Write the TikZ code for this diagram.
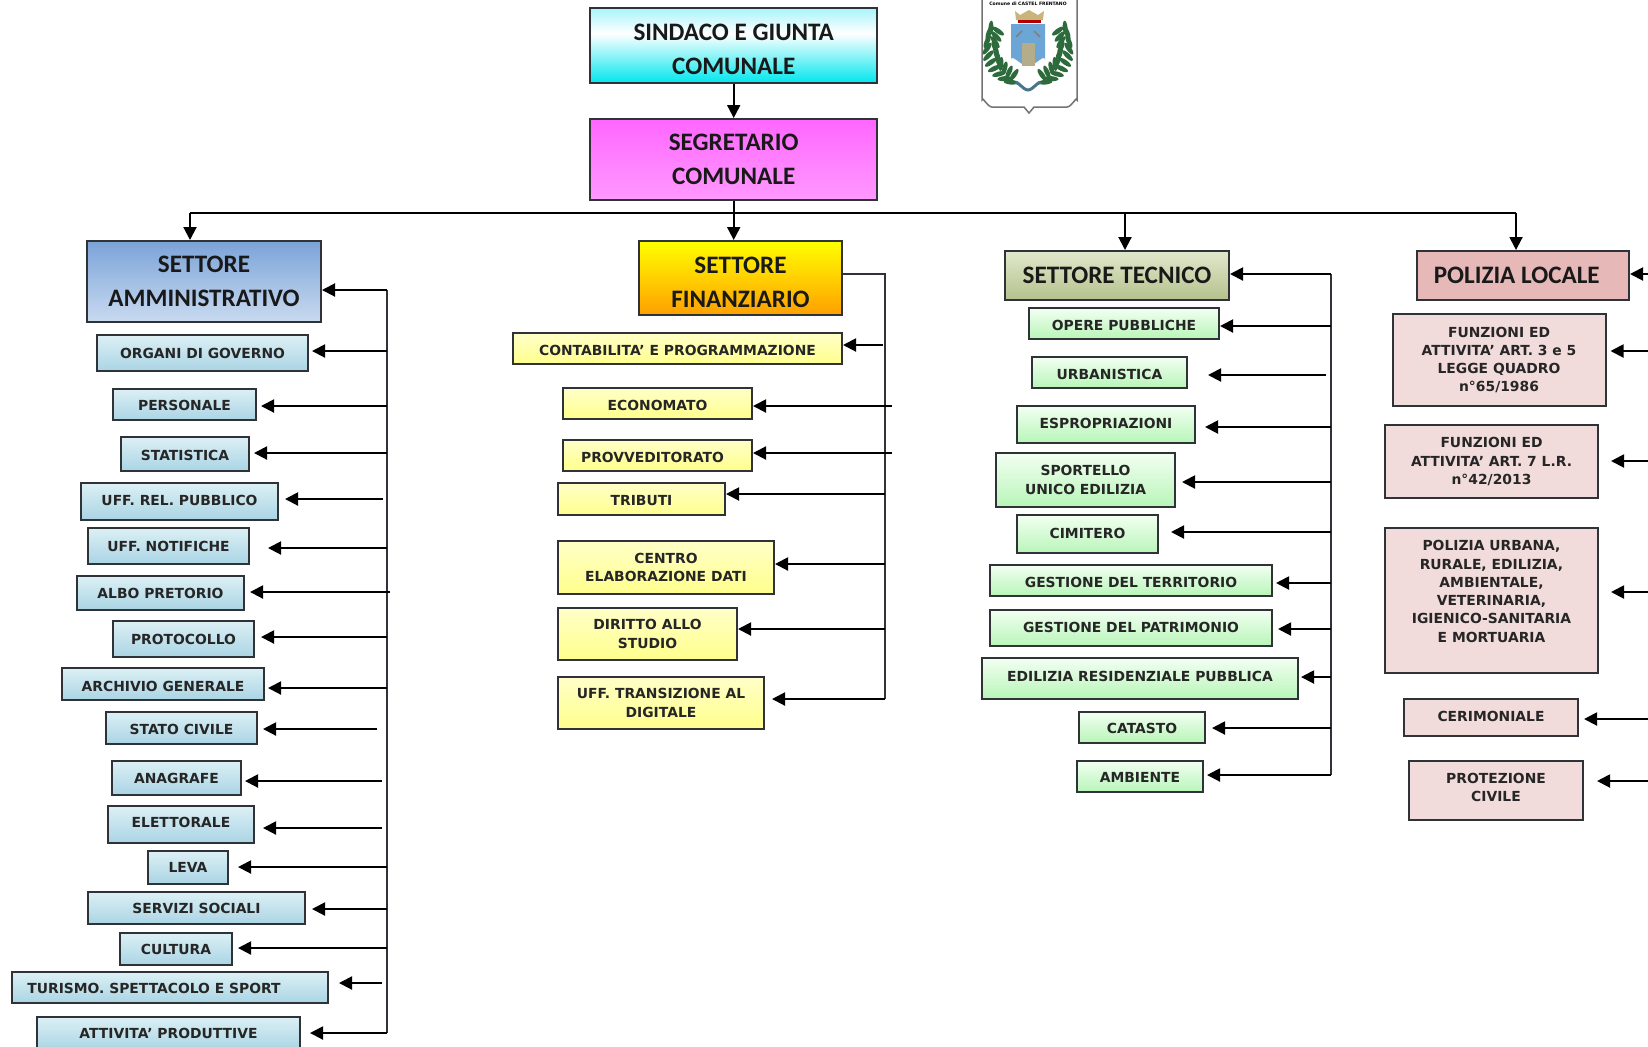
\documentclass[tikz,border=0pt]{standalone}
\usepackage{fontspec}
\usetikzlibrary{arrows.meta}
\newfontfamily\capfont{Carlito}[BoldFont={Carlito Bold}]
\newfontfamily\boxfont{DejaVu Sans}
\definecolor{edge}{HTML}{2F3338}
\definecolor{cSinT}{HTML}{A8F4FA}
\definecolor{cSinB}{HTML}{00E6EE}
\definecolor{cAdmH}{HTML}{7BA3D8}
\definecolor{cAdmL}{HTML}{C9DAF0}
\definecolor{cAdmT}{HTML}{DCF0F5}
\definecolor{cAdmB}{HTML}{AAD4E4}
\definecolor{cFinT}{HTML}{FFFFC8}
\definecolor{cFinB}{HTML}{FFFF8C}
\definecolor{cTecH}{HTML}{E0E8CC}
\definecolor{cTecL}{HTML}{B4C28C}
\definecolor{cTecT}{HTML}{F2FFF2}
\definecolor{cTecB}{HTML}{B8F5B8}
\definecolor{cPolH}{HTML}{E6B8B7}
\definecolor{cPol}{HTML}{F2DCDB}
\definecolor{cCrown}{HTML}{C9B57C}
\definecolor{cScudo}{HTML}{6BA6D6}
\definecolor{cTorre}{HTML}{B5AD8A}
\definecolor{cLeaf}{HTML}{2E6B3C}
\pgfdeclareverticalshading{sindacoshade}{100bp}{color(0bp)=(cSinB); color(25bp)=(cSinB); color(58bp)=(white); color(75bp)=(cSinT); color(100bp)=(cSinT)}
\tikzset{
  size/.style 2 args={minimum width=#1*0.02cm,minimum height=#2*0.02cm},
  drop/.style={text depth=0pt,text height=5.8pt+2*#1*0.02cm},
  head/.style={draw=edge,line width=0.04cm,inner sep=0pt,align=center,font=\capfont\bfseries\fontsize{14.3}{19.3}\selectfont,text=black!90},
  leaf/.style={draw=edge,line width=0.04cm,inner sep=0pt,align=center,font=\boxfont\bfseries\fontsize{7.9}{10.4}\selectfont,text=black!85},
  adm/.style={leaf,top color=cAdmT,bottom color=cAdmB},
  fin/.style={leaf,top color=cFinT,bottom color=cFinB},
  tec/.style={leaf,top color=cTecT,bottom color=cTecB},
  pol/.style={leaf,fill=cPol},
  feed/.style={-{Triangle[length=0.26cm,width=0.26cm]},line width=0.04cm,black},
  spine/.style={line width=0.04cm,edge},
  gap/.style={shorten >=(#1-2)*0.02cm},
  frond/.style={fill=cLeaf}
}
\begin{document}
\begin{tikzpicture}[x=0.02cm,y=-0.02cm]
\useasboundingbox (0,0) rectangle (1648,1046);
\clip (0,0) rectangle (1648,1046);

% top of the chart
\node[head,size={287}{75},shading=sindacoshade](sindaco) at (733.7,45.5){\rule{0pt}{14pt}SINDACO E GIUNTA\\COMUNALE};
\node[head,size={287}{81},top color=magenta!60!white,bottom color=magenta!40!white](segretario) at (733.7,159.5){SEGRETARIO\\COMUNALE};
\coordinate (busl) at (190,213);
\coordinate (busr) at (1516,213);
\coordinate (bust) at (1125,213);
\draw[feed] (sindaco)--(segretario);
\draw[line width=0.03cm] (busl)--(busr);

% crest
\filldraw[draw=black!55,fill=white,line width=0.03cm] (982,-5)--(982,100) to[out=90,in=180] (992,107)--(1024,107)--(1029,113)--(1034,107)--(1067,107) to[out=0,in=90] (1077,100)--(1077,-5);
\node[inner sep=0pt,font=\boxfont\bfseries\fontsize{2.6}{3}\selectfont](stemma) at (1028,4){Comune di CASTEL FRENTANO};
\fill[cCrown] (1015,11)--(1020,15)--(1029,10)--(1038,15)--(1044,11)--(1043,20)--(1016,20)--cycle;
\fill[red!70!black] (1018,20) rectangle (1041,23);
\fill[cScudo] (1011,24)--(1045,24)--(1045,60) to[out=90,in=0] (1028,66) to[out=180,in=90] (1011,60)--cycle;
\fill[cTorre] (1022,66)--(1022,43)--(1035,43)--(1035,66)--cycle;
\draw[gray,line width=0.03cm] (1016,37)--(1022,31) (1040,37)--(1034,31);
\begin{scope}[shift={(1028,45)}]
\foreach \a in {115,125,...,205}
  {\fill[frond,shift={(\a:33)},rotate=\a-60] (0,0) ellipse (7 and 2.4);
   \fill[frond,shift={(\a:41)},rotate=\a+60] (0,0) ellipse (7 and 2.4);}
\foreach \a in {65,55,...,-25}
  {\fill[frond,shift={(\a:33)},rotate=\a+60] (0,0) ellipse (7 and 2.4);
   \fill[frond,shift={(\a:41)},rotate=\a-60] (0,0) ellipse (7 and 2.4);}
\end{scope}
\draw[cyan!50!black,line width=0.06cm] (1016,84) to[out=90,in=180] (1028,90) to[out=0,in=90] (1040,84);

% settore amministrativo
\node[head,size={234}{81},top color=cAdmH,bottom color=cAdmL](admin) at (204,281.5){SETTORE\\AMMINISTRATIVO};
\node[adm,size={211}{36}](organi) at (202.5,353){ORGANI DI GOVERNO};
\node[adm,size={143}{31},drop=1](personale) at (184.5,404.5){PERSONALE};
\node[adm,size={128}{34},drop=1](statistica) at (185,454){STATISTICA};
\node[adm,size={197}{37},drop=-1](relpub) at (179.5,501.5){UFF. REL. PUBBLICO};
\node[adm,size={161}{36}](notifiche) at (168.5,546){UFF. NOTIFICHE};
\node[adm,size={167}{34}](albo) at (160.5,593){ALBO PRETORIO};
\node[adm,size={141}{36}](protocollo) at (183.5,639){PROTOCOLLO};
\node[adm,size={202}{32},drop=2](archivio) at (163,684){ARCHIVIO GENERALE};
\node[adm,size={151}{32},drop=1](stato) at (181.5,728){STATO CIVILE};
\node[adm,size={129}{34}](anagrafe) at (176.5,778){ANAGRAFE};
\node[adm,size={146}{37},drop=-2](elettorale) at (181,824.5){ELETTORALE};
\node[adm,size={80}{33}](leva) at (188,867.5){LEVA};
\node[adm,size={217}{32}](servizi) at (196.5,908){SERVIZI SOCIALI};
\node[adm,size={112}{32}](cultura) at (176,949){CULTURA};
\node[adm,size={316}{31},drop=1](turismo) at (170,987.5){TURISMO. SPETTACOLO E SPORT\hspace{0.64cm}};
\node[adm,size={263}{33}](attivita) at (168.5,1033.5){ATTIVITA’ PRODUTTIVE};
\coordinate (s-admin) at (387,290);
\coordinate (s-organi) at (387,351);
\coordinate (s-personale) at (387,406);
\coordinate (s-statistica) at (387,453);
\coordinate (s-relpub) at (383,499);
\coordinate (s-notifiche) at (387,548);
\coordinate (s-albo) at (390,592);
\coordinate (s-protocollo) at (387,637);
\coordinate (s-archivio) at (387,688);
\coordinate (s-stato) at (377,729);
\coordinate (s-anagrafe) at (382,781);
\coordinate (s-elettorale) at (382,828);
\coordinate (s-leva) at (387,867);
\coordinate (s-servizi) at (387,909);
\coordinate (s-cultura) at (387,948);
\coordinate (s-turismo) at (382,983);
\coordinate (s-attivita) at (387,1033);
\draw[spine] (s-admin)--(s-attivita);
\draw[feed] (busl)--(busl|-admin.north);
\draw[feed] (s-admin)--(s-admin-|admin.east);
\draw[feed,gap=5] (s-organi)--(s-organi-|organi.east);
\draw[feed,gap=6] (s-personale)--(s-personale-|personale.east);
\draw[feed,gap=6] (s-statistica)--(s-statistica-|statistica.east);
\draw[feed,gap=8] (s-relpub)--(s-relpub-|relpub.east);
\draw[feed,gap=20] (s-notifiche)--(s-notifiche-|notifiche.east);
\draw[feed,gap=7] (s-albo)--(s-albo-|albo.east);
\draw[feed,gap=8] (s-protocollo)--(s-protocollo-|protocollo.east);
\draw[feed,gap=5] (s-archivio)--(s-archivio-|archivio.east);
\draw[feed,gap=7] (s-stato)--(s-stato-|stato.east);
\draw[feed,gap=5] (s-anagrafe)--(s-anagrafe-|anagrafe.east);
\draw[feed,gap=10] (s-elettorale)--(s-elettorale-|elettorale.east);
\draw[feed,gap=11] (s-leva)--(s-leva-|leva.east);
\draw[feed,gap=8] (s-servizi)--(s-servizi-|servizi.east);
\draw[feed,gap=7] (s-cultura)--(s-cultura-|cultura.east);
\draw[feed,gap=12] (s-turismo)--(s-turismo-|turismo.east);
\draw[feed,gap=11] (s-attivita)--(s-attivita-|attivita.east);

% settore finanziario
\node[head,size={203}{74},top color=yellow,middle color=yellow,bottom color=orange!75!yellow](finanz) at (740.5,278){\rule{0pt}{14pt}SETTORE\\FINANZIARIO};
\node[fin,size={329}{31},drop=2](contab) at (677.5,348.5){CONTABILITA’ E PROGRAMMAZIONE};
\node[fin,size={189}{31},drop=2](econ) at (657.5,403.5){ECONOMATO};
\node[fin,size={189}{31},drop=2](provv) at (657.5,455.5){PROVVEDITORATO\hspace{0.2cm}};
\node[fin,size={167}{32},drop=1](tributi) at (641.5,499){TRIBUTI};
\node[fin,size={216}{53}](centro) at (666,567.5){CENTRO\\ELABORAZIONE DATI};
\node[fin,size={179}{52}](diritto) at (647.5,634){DIRITTO ALLO\\STUDIO};
\node[fin,size={206}{52}](transiz) at (661,703){UFF. TRANSIZIONE AL\\DIGITALE};
\coordinate (s-finanz) at (885,274);
\coordinate (s-contab) at (883,345);
\coordinate (s-econ) at (892,406);
\coordinate (s-provv) at (892,453);
\coordinate (s-tributi) at (885,494);
\coordinate (s-centro) at (885,564);
\coordinate (s-diritto) at (885,629);
\coordinate (s-transiz) at (885,699);
\draw[feed] (segretario.south)--(segretario.south|-finanz.north);
\draw[spine] (s-finanz-|finanz.east)--(s-finanz)--(s-transiz);
\draw[feed] (s-contab)--(s-contab-|contab.east);
\draw[feed] (s-econ)--(s-econ-|econ.east);
\draw[feed] (s-provv)--(s-provv-|provv.east);
\draw[feed] (s-tributi)--(s-tributi-|tributi.east);
\draw[feed] (s-centro)--(s-centro-|centro.east);
\draw[feed] (s-diritto)--(s-diritto-|diritto.east);
\draw[feed,gap=9] (s-transiz)--(s-transiz-|transiz.east);

% settore tecnico
\node[head,size={224}{49},top color=cTecH,bottom color=cTecL](tecnico) at (1117,275.5){SETTORE TECNICO};
\node[tec,size={190}{31},drop=2](opere) at (1124,323.5){OPERE PUBBLICHE};
\node[tec,size={155}{31},drop=2](urban) at (1109.5,372.5){URBANISTICA};
\node[tec,size={178}{37},drop=-1](espro) at (1106,424.5){ESPROPRIAZIONI};
\node[tec,size={179}{54}](sportello) at (1085.5,480){SPORTELLO\\UNICO EDILIZIA};
\node[tec,size={141}{38},drop=-1](cimitero) at (1087.5,534){CIMITERO};
\node[tec,size={282}{31},drop=2](territorio) at (1131,580.5){GESTIONE DEL TERRITORIO};
\node[tec,size={282}{36},drop=-1](patrim) at (1131,628){GESTIONE DEL PATRIMONIO};
\node[tec,size={316}{41},drop=-2](edilizia) at (1140,678.5){EDILIZIA RESIDENZIALE PUBBLICA};
\node[tec,size={126}{31},drop=1](catasto) at (1142,727.5){CATASTO};
\node[tec,size={126}{31},drop=1](ambiente) at (1140,776.5){AMBIENTE};
\coordinate (s-tecnico) at (1331,274);
\coordinate (s-opere) at (1331,326);
\coordinate (s-urban) at (1326,375);
\coordinate (s-espro) at (1331,427);
\coordinate (s-sportello) at (1331,482);
\coordinate (s-cimitero) at (1331,532);
\coordinate (s-territorio) at (1331,583);
\coordinate (s-patrim) at (1331,629);
\coordinate (s-edilizia) at (1331,677);
\coordinate (s-catasto) at (1331,728);
\coordinate (s-ambiente) at (1331,775);
\draw[spine] (s-tecnico)--(s-ambiente);
\draw[feed] (bust)--(bust|-tecnico.north);
\draw[feed] (s-tecnico)--(s-tecnico-|tecnico.east);
\draw[feed] (s-opere)--(s-opere-|opere.east);
\draw[feed,gap=22] (s-urban)--(s-urban-|urban.east);
\draw[feed,gap=11] (s-espro)--(s-espro-|espro.east);
\draw[feed,gap=8] (s-sportello)--(s-sportello-|sportello.east);
\draw[feed,gap=14] (s-cimitero)--(s-cimitero-|cimitero.east);
\draw[feed,gap=5] (s-territorio)--(s-territorio-|territorio.east);
\draw[feed,gap=7] (s-patrim)--(s-patrim-|patrim.east);
\draw[feed,gap=4] (s-edilizia)--(s-edilizia-|edilizia.east);
\draw[feed,gap=8] (s-catasto)--(s-catasto-|catasto.east);
\draw[feed,gap=5] (s-ambiente)--(s-ambiente-|ambiente.east);

% polizia locale
\node[head,size={212}{49},fill=cPolH](polizia) at (1523,275.5){POLIZIA LOCALE\hspace{0.25cm}};
\node[pol,size={213}{92}](funz-a) at (1499,360){FUNZIONI ED\\ATTIVITA’ ART. 3 e 5\\LEGGE QUADRO\\n°65/1986};
\node[pol,size={213}{73}](funz-b) at (1491.5,461.5){FUNZIONI ED\\ATTIVITA’ ART. 7 L.R.\\n°42/2013};
\node[pol,size={213}{145}](urbana) at (1491.5,600.5){POLIZIA URBANA,\\RURALE, EDILIZIA,\\AMBIENTALE,\\VETERINARIA,\\IGIENICO-SANITARIA\\E MORTUARIA\\~};
\node[pol,size={174}{37},drop=-1](cerim) at (1491,717.5){CERIMONIALE};
\node[pol,size={174}{59}](protez) at (1496,790.5){PROTEZIONE\\CIVILE\rule[-3.4pt]{0pt}{0pt}};
\coordinate (s-polizia) at (1650,274);
\coordinate (s-funz-a) at (1650,351);
\coordinate (s-funz-b) at (1650,461);
\coordinate (s-urbana) at (1650,592);
\coordinate (s-cerim) at (1650,719);
\coordinate (s-protez) at (1650,781);
\draw[feed] (busr)--(busr|-polizia.north);
\draw[feed] (s-polizia)--(s-polizia-|polizia.east);
\draw[feed,gap=6] (s-funz-a)--(s-funz-a-|funz-a.east);
\draw[feed,gap=14] (s-funz-b)--(s-funz-b-|funz-b.east);
\draw[feed,gap=14] (s-urbana)--(s-urbana-|urbana.east);
\draw[feed,gap=7] (s-cerim)--(s-cerim-|cerim.east);
\draw[feed,gap=15] (s-protez)--(s-protez-|protez.east);
\end{tikzpicture}
\end{document}
